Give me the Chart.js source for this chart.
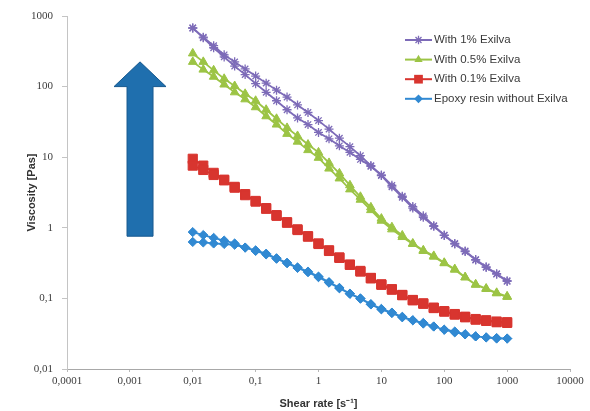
<!DOCTYPE html>
<html><head><meta charset="utf-8">
<script src="https://cdn.jsdelivr.net/npm/chart.js@4.4.1/dist/chart.umd.min.js"></script>
<style>html,body{margin:0;padding:0;background:#fff;}#wrap{width:590px;height:411px;position:relative;}</style>
</head><body><div id="wrap"><canvas id="c" width="590" height="411"></canvas></div>
<script>
// ---------- DATA ----------
const shearRate = [0.01, 0.0147, 0.0215, 0.0316, 0.0464, 0.0681, 0.1, 0.147, 0.215, 0.316, 0.464, 0.681,
  1, 1.47, 2.15, 3.16, 4.64, 6.81, 10, 14.7, 21.5, 31.6, 46.4, 68.1, 100, 147, 215, 316, 464, 681, 1000];

const seriesNames = ['With 1% Exilva', 'With 0.5% Exilva', 'With 0.1% Exilva', 'Epoxy resin without Exilva'];

// each sample measured twice (two sweeps) -> drawn as one loop per sample
const visc1SweepA = [676, 501, 380, 282, 224, 178, 141, 112, 89, 71, 55, 43, 33, 25, 18.6, 14.1, 10.5, 7.6, 5.6,
  4.0, 2.8, 2.0, 1.48, 1.07, 0.79, 0.60, 0.47, 0.355, 0.28, 0.224, 0.178];
const visc1SweepB = [676, 490, 355, 263, 195, 148, 110, 83, 63, 47, 36, 29, 22.4, 18.2, 14.5, 11.7, 9.3, 7.4, 5.5,
  3.8, 2.7, 1.9, 1.41, 1.05, 0.78, 0.59, 0.46, 0.35, 0.275, 0.22, 0.174];

const visc05SweepA = [295, 224, 170, 129, 102, 79, 63, 47, 35, 26, 20, 15.1, 11.7, 8.3, 5.9, 4.0, 2.75, 1.95, 1.35,
  1.02, 0.78, 0.60, 0.48, 0.40, 0.32, 0.26, 0.20, 0.158, 0.138, 0.12, 0.107];
const visc05SweepB = [224, 174, 138, 107, 83, 66, 51, 38, 29, 21.4, 16.6, 12.6, 9.8, 6.9, 5.0, 3.5, 2.5, 1.78, 1.26,
  0.95, 0.74, 0.59, 0.47, 0.39, 0.315, 0.255, 0.198, 0.156, 0.136, 0.118, 0.105];

const visc01SweepA = [9.5, 7.6, 6.0, 4.8, 3.8, 3.0, 2.4, 1.9, 1.51, 1.2, 0.95, 0.76, 0.60, 0.48, 0.38, 0.30, 0.245,
  0.195, 0.158, 0.135, 0.112, 0.095, 0.085, 0.074, 0.066, 0.060, 0.055, 0.051, 0.049, 0.047, 0.046];
const visc01SweepB = [7.6, 6.6, 5.6, 4.7, 3.7, 2.9, 2.35, 1.86, 1.48, 1.18, 0.93, 0.75, 0.59, 0.47, 0.375, 0.30,
  0.24, 0.192, 0.156, 0.133, 0.111, 0.094, 0.084, 0.073, 0.065, 0.059, 0.054, 0.050, 0.048, 0.046, 0.045];

const visc0SweepA = [0.87, 0.79, 0.72, 0.66, 0.60, 0.525, 0.48, 0.43, 0.37, 0.32, 0.275, 0.24, 0.204, 0.17, 0.141,
  0.117, 0.100, 0.083, 0.071, 0.063, 0.055, 0.049, 0.045, 0.040, 0.036, 0.034, 0.031, 0.029, 0.028, 0.0275, 0.027];
const visc0SweepB = [0.63, 0.62, 0.60, 0.59, 0.575, 0.525, 0.47, 0.42, 0.365, 0.315, 0.27, 0.235, 0.2, 0.167, 0.139,
  0.116, 0.099, 0.082, 0.070, 0.062, 0.054, 0.049, 0.044, 0.040, 0.036, 0.033, 0.031, 0.029, 0.028, 0.027, 0.027];

const xTickValues = [0.0001, 0.001, 0.01, 0.1, 1, 10, 100, 1000, 10000];
const xTickLabels = ['0,0001', '0,001', '0,01', '0,1', '1', '10', '100', '1000', '10000'];
const yTickValues = [0.01, 0.1, 1, 10, 100, 1000];
const yTickLabels = ['0,01', '0,1', '1', '10', '100', '1000'];
const xTitle = 'Shear rate [s\u207B\u00B9]';
const yTitle = 'Viscosity [Pas]';

// ---------- STYLE ----------
const colors = ['#7d6bb8', '#9cc445', '#d8352f', '#3189d2'];
const pointStyles = ['star', 'triangle', 'rect', 'rectRot'];
const pointRadii = [4.5, 5, 6.5, 4.6];
const arrowSpec = { x: 0.00145, tip: 224, headBase: 100, base: 0.76, shaftHalf: 13, headHalf: 26 };

function loop(a, b) {
  const pts = a.map((v, i) => ({ x: shearRate[i], y: v }));
  for (let i = b.length - 1; i >= 0; i--) pts.push({ x: shearRate[i], y: b[i] });
  return pts;
}
const sweeps = [[visc1SweepA, visc1SweepB], [visc05SweepA, visc05SweepB], [visc01SweepA, visc01SweepB], [visc0SweepA, visc0SweepB]];

const datasets = sweeps.map((s, i) => ({
  label: seriesNames[i],
  data: loop(s[0], s[1]),
  showLine: true,
  borderColor: colors[i],
  backgroundColor: colors[i],
  borderWidth: 1.8,
  pointStyle: pointStyles[i],
  pointRadius: pointRadii[i],
  pointBorderWidth: pointStyles[i] === 'star' ? 1.3 : 1,
  pointBorderColor: colors[i],
  pointBackgroundColor: colors[i],
  tension: 0
}));

function drawMarker(ctx, style, x, y, r, color) {
  ctx.save();
  ctx.fillStyle = color; ctx.strokeStyle = color; ctx.lineWidth = 1.3;
  ctx.beginPath();
  if (style === 'star') {
    ctx.moveTo(x - r * 0.7, y - r * 0.7); ctx.lineTo(x + r * 0.7, y + r * 0.7);
    ctx.moveTo(x - r * 0.7, y + r * 0.7); ctx.lineTo(x + r * 0.7, y - r * 0.7);
    ctx.moveTo(x, y - r); ctx.lineTo(x, y + r);
    ctx.stroke();
  } else if (style === 'triangle') {
    ctx.moveTo(x, y - r); ctx.lineTo(x + r * 0.87, y + r * 0.5); ctx.lineTo(x - r * 0.87, y + r * 0.5); ctx.closePath(); ctx.fill();
  } else if (style === 'rect') {
    const s = r * Math.SQRT1_2; ctx.rect(x - s, y - s, 2 * s, 2 * s); ctx.fill();
  } else {
    ctx.moveTo(x, y - r); ctx.lineTo(x + r, y); ctx.lineTo(x, y + r); ctx.lineTo(x - r, y); ctx.closePath(); ctx.fill();
  }
  ctx.restore();
}

const decorPlugin = {
  id: 'decor',
  afterDatasetsDraw(chart) {
    const ctx = chart.ctx, xs = chart.scales.x, ys = chart.scales.y, ca = chart.chartArea;
    // arrow
    const cx = xs.getPixelForValue(arrowSpec.x);
    const ty = ys.getPixelForValue(arrowSpec.tip);
    const hy = ys.getPixelForValue(arrowSpec.headBase);
    const by = ys.getPixelForValue(arrowSpec.base);
    ctx.save();
    ctx.beginPath();
    ctx.moveTo(cx, ty);
    ctx.lineTo(cx + arrowSpec.headHalf, hy);
    ctx.lineTo(cx + arrowSpec.shaftHalf, hy);
    ctx.lineTo(cx + arrowSpec.shaftHalf, by);
    ctx.lineTo(cx - arrowSpec.shaftHalf, by);
    ctx.lineTo(cx - arrowSpec.shaftHalf, hy);
    ctx.lineTo(cx - arrowSpec.headHalf, hy);
    ctx.closePath();
    ctx.fillStyle = '#1f6fae';
    ctx.fill();
    ctx.strokeStyle = '#17598f';
    ctx.lineWidth = 1;
    ctx.stroke();
    ctx.restore();
    // legend
    const lx0 = ca.right - 165, lx1 = ca.right - 138, tx = ca.right - 136;
    ctx.save();
    ctx.font = '11.5px "Liberation Sans", Arial, sans-serif';
    ctx.textBaseline = 'middle';
    ctx.textAlign = 'left';
    seriesNames.forEach((name, i) => {
      const y = ca.top + 24 + i * 19.6;
      ctx.strokeStyle = colors[i]; ctx.lineWidth = 2;
      ctx.beginPath(); ctx.moveTo(lx0, y); ctx.lineTo(lx1, y); ctx.stroke();
      drawMarker(ctx, pointStyles[i], (lx0 + lx1) / 2, y, pointRadii[i] * 0.95, colors[i]);
      ctx.fillStyle = '#3a3a3a';
      ctx.fillText(name, tx, y);
    });
    ctx.restore();
  }
};

new Chart(document.getElementById('c'), {
  type: 'scatter',
  data: { datasets },
  plugins: [decorPlugin],
  options: {
    responsive: false,
    devicePixelRatio: 1,
    animation: false,
    layout: { padding: { top: 16, right: 20, bottom: 0, left: 0 } },
    plugins: { legend: { display: false }, tooltip: { enabled: false } },
    scales: {
      x: {
        type: 'logarithmic',
        min: 0.0001, max: 10000,
        afterBuildTicks(scale) { scale.ticks = xTickValues.map(v => ({ value: v })); },
        afterFit(scale) { scale.height = 42; },
        ticks: {
          autoSkip: false, maxRotation: 0, padding: 3,
          color: '#3c3c3c',
          font: { family: '"Liberation Serif", "Times New Roman", serif', size: 11 },
          callback(value, index) { return xTickLabels[index]; }
        },
        grid: { display: true, drawOnChartArea: false, tickLength: 3, color: '#b8b8b8' },
        border: { display: true, color: '#a8a8a8', width: 1, dash: [1, 2] },
        title: {
          display: true, text: xTitle, color: '#333',
          font: { family: '"Liberation Sans", Arial, sans-serif', size: 11, weight: 'bold' },
          padding: { top: 0, bottom: 0 }
        }
      },
      y: {
        type: 'logarithmic',
        min: 0.01, max: 1000,
        afterBuildTicks(scale) { scale.ticks = yTickValues.map(v => ({ value: v })); },
        afterFit(scale) { scale.width = 67; },
        ticks: {
          autoSkip: false, padding: 9,
          color: '#3c3c3c',
          font: { family: '"Liberation Serif", "Times New Roman", serif', size: 11 },
          callback(value, index) { return yTickLabels[index]; }
        },
        grid: { display: true, drawOnChartArea: false, tickLength: 5, color: '#c4c4c4' },
        border: { display: true, color: '#c4c4c4', width: 1 },
        title: {
          display: true, text: yTitle, color: '#333',
          font: { family: '"Liberation Sans", Arial, sans-serif', size: 11, weight: 'bold' },
          padding: { top: 25, bottom: 0 }
        }
      }
    }
  }
});
</script>
</body></html>
